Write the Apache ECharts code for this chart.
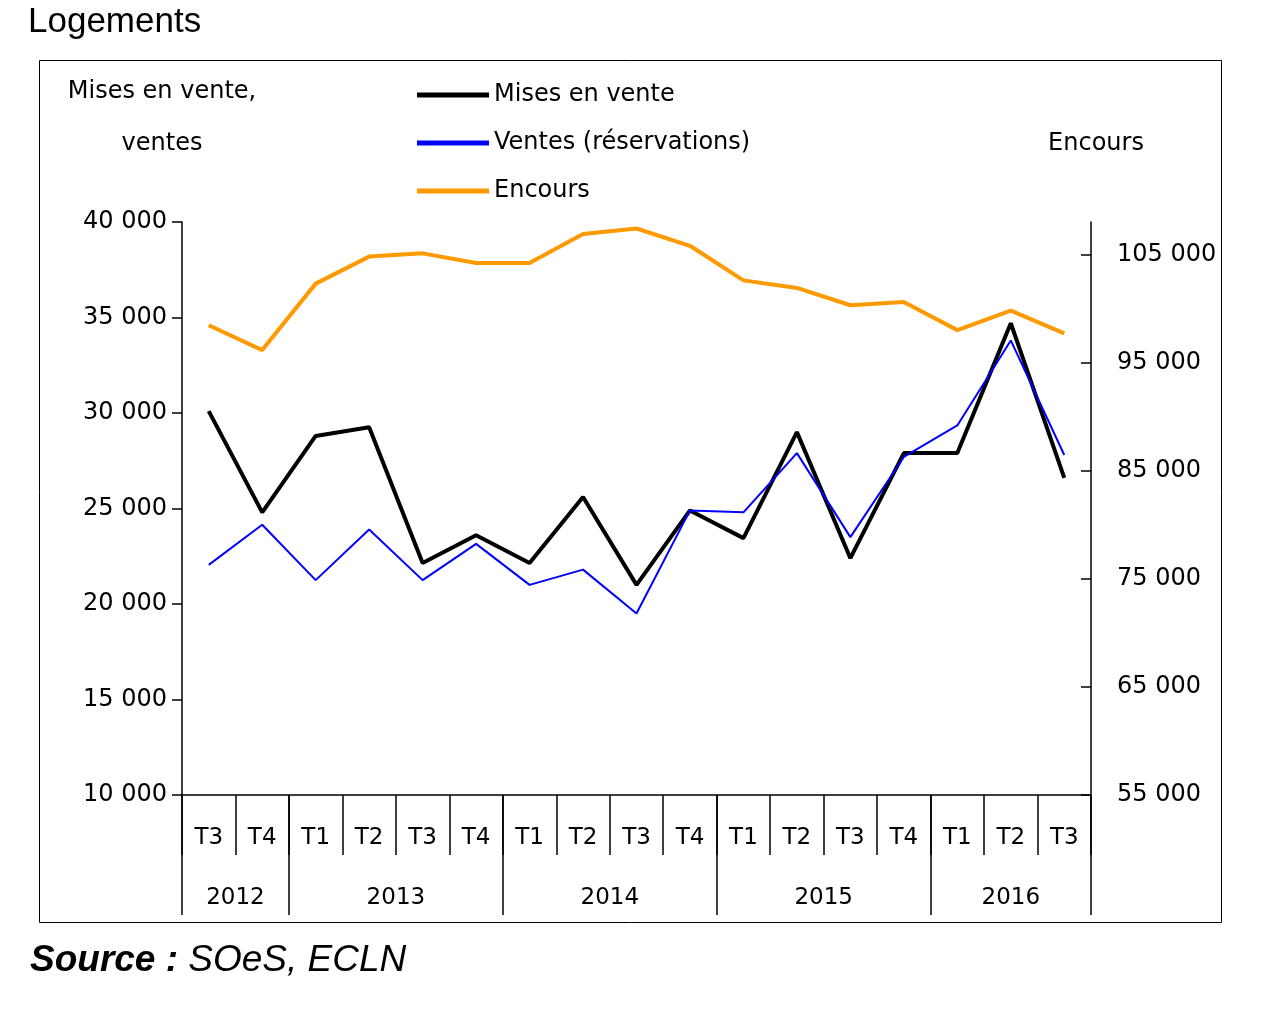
<!DOCTYPE html>
<html lang="fr">
<head>
    <meta charset="UTF-8">
    <title>Logements</title>
    <style>
        body { margin: 0; background: #fff; }
        #main { width: 1264px; height: 1012px; }
    </style>
    <script src="https://cdnjs.cloudflare.com/ajax/libs/echarts/6.0.0/echarts.min.js"></script>
</head>
<body>
    <div id="main"></div>
    <script>
        const quarters = ['T3', 'T4', 'T1', 'T2', 'T3', 'T4', 'T1', 'T2', 'T3', 'T4', 'T1', 'T2', 'T3', 'T4', 'T1', 'T2', 'T3'];
        const years = ['2012', '2013', '2014', '2015', '2016'];
        const yearCenters = [1, 4, 8, 12, 15.5];
        const yearBounds = [0, 2, 6, 10, 14, 17];
        const misesEnVente = [30100, 24800, 28800, 29250, 22150, 23600, 22150, 25600, 21000, 24900, 23450, 29000, 22400, 27900, 27900, 34700, 26600];
        const ventes = [22050, 24150, 21250, 23900, 21250, 23150, 21000, 21800, 19500, 24900, 24800, 27900, 23500, 27700, 29350, 33800, 27800];
        const encours = [98450, 96150, 102300, 104800, 105100, 104200, 104200, 106900, 107400, 105800, 102600, 101900, 100300, 100600, 98000, 99800, 97700];

        const font = 'DejaVu Sans';
        const fmt = v => String(v).replace(/\B(?=(\d{3})+(?!\d))/g, ' ');
        const chart = echarts.init(document.getElementById('main'));

        chart.setOption({
            animation: false,
            textStyle: { fontFamily: font, color: '#000' },
            graphic: [
                { type: 'rect', shape: { x: 39.5, y: 60.5, width: 1182, height: 862 }, style: { fill: 'none', stroke: '#000', lineWidth: 1 } },
                { type: 'text', left: 28, top: 5, style: { text: 'Logements', font: '35px Liberation Sans', fill: '#000' } },
                {
                    type: 'text', left: 30, top: 942,
                    style: {
                        text: '{b|Source : }{i|SOeS, ECLN}',
                        rich: {
                            b: { font: 'italic bold 37px Liberation Sans', fill: '#000' },
                            i: { font: 'italic 37px Liberation Sans', fill: '#000' }
                        }
                    }
                }
            ],
            legend: {
                left: 412, top: 78, orient: 'vertical', itemGap: 24,
                itemWidth: 72, itemHeight: 5,
                textStyle: { fontFamily: font, fontSize: 24, color: '#000' },
                data: [
                    { name: 'Mises en vente', icon: 'rect', itemStyle: { color: '#000' } },
                    { name: 'Ventes (réservations)', icon: 'rect', itemStyle: { color: '#0000ff' } },
                    { name: 'Encours', icon: 'rect', itemStyle: { color: '#ff9900' } }
                ]
            },
            grid: { left: 182, right: 173, top: 222, bottom: 217 },
            xAxis: [
                {
                    type: 'category', data: quarters, boundaryGap: true, position: 'bottom',
                    axisLine: { show: true, lineStyle: { color: '#000', width: 1.5 } },
                    axisTick: { show: true, interval: 0, length: 60, lineStyle: { color: '#000', width: 1.5 } },
                    axisLabel: { interval: 0, fontSize: 23, color: '#000', margin: 32 },
                    z: 5
                },
                {
                    type: 'value', min: 0, max: 17, position: 'bottom',
                    axisLine: { show: false },
                    splitLine: { show: false },
                    axisTick: { customValues: yearBounds, length: 120, lineStyle: { color: '#000', width: 1.5 } },
                    axisLabel: {
                        customValues: yearCenters, fontSize: 23, color: '#000', margin: 92,
                        formatter: v => years[yearCenters.indexOf(v)]
                    }
                }
            ],
            yAxis: [
                {
                    type: 'value', min: 10000, max: 40000, interval: 5000,
                    name: 'Mises en vente,\nventes', nameLocation: 'end', nameGap: 52,
                    nameTextStyle: { fontSize: 24, color: '#000', lineHeight: 52, align: 'center', padding: [0, 40, 0, 0] },
                    axisLine: { show: true, lineStyle: { color: '#000', width: 1.5 } },
                    axisTick: { show: true, length: 10, lineStyle: { color: '#000', width: 1.5 } },
                    axisLabel: { fontSize: 24, color: '#000', margin: 15, formatter: fmt },
                    splitLine: { show: false }
                },
                {
                    type: 'value', min: 55000, max: 108000, interval: 10000,
                    name: 'Encours', nameLocation: 'end', nameGap: 66,
                    nameTextStyle: { fontSize: 24, color: '#000', align: 'center', padding: [0, 0, 0, 10] },
                    axisLine: { show: true, lineStyle: { color: '#000', width: 1.5 } },
                    axisTick: { show: true, inside: true, length: 10, lineStyle: { color: '#000', width: 1.5 } },
                    axisLabel: { fontSize: 24, color: '#000', margin: 26, formatter: fmt, showMaxLabel: false },
                    splitLine: { show: false }
                }
            ],
            series: [
                { name: 'Encours', type: 'line', yAxisIndex: 1, data: encours, symbol: 'none', lineStyle: { color: '#ff9900', width: 4 }, itemStyle: { color: '#ff9900' }, z: 2 },
                { name: 'Mises en vente', type: 'line', data: misesEnVente, symbol: 'none', lineStyle: { color: '#000', width: 4 }, itemStyle: { color: '#000' }, z: 3 },
                { name: 'Ventes (réservations)', type: 'line', data: ventes, symbol: 'none', lineStyle: { color: '#0000ff', width: 2 }, itemStyle: { color: '#0000ff' }, z: 4 }
            ]
        });
    </script>
</body>
</html>
